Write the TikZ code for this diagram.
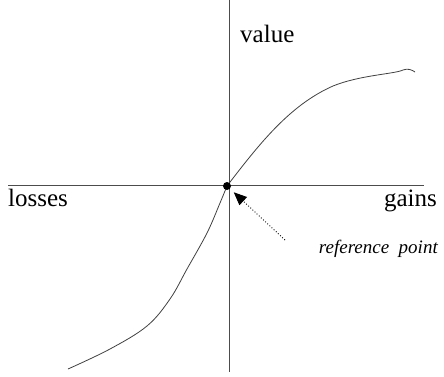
\documentclass[tikz,border=0pt]{standalone}
\usepackage{fontspec}
\setmainfont{Liberation Serif}
\usetikzlibrary{arrows.meta}
\begin{document}
\begin{tikzpicture}[x=1pt,y=-1pt,
  axisline/.style={draw=black!70,line width=0.9pt},
  curveline/.style={draw=black!75,line width=0.8pt},
  lbl/.style={anchor=base west,inner sep=0pt,font=\fontsize{25}{28}\selectfont},
  reflbl/.style={anchor=base west,inner sep=0pt,font=\fontsize{19}{22}\selectfont\itshape}]
\useasboundingbox (0,0) rectangle (444,377);
\coordinate (vtop) at (229,0);
\coordinate (vbot) at (229,372);
\coordinate (hl) at (8,185);
\coordinate (hr) at (424,185);
\draw[axisline] (vtop) -- (vbot);
\draw[axisline] (hl) -- (hr);
\coordinate (cm) at (227,186);
\coordinate (ce) at (415,72);
\draw[curveline] plot[smooth,tension=0.6] coordinates {(68,369) (110,349) (147,326) (170,299) (187,269) (207,233) (220,203) (227,186)};
\draw[curveline] (cm)
  .. controls (260,143) and (290,105) .. (333,86)
  .. controls (360,75) and (395,74) .. (403,70)
  .. controls (408,68) and (412,70) .. (ce);
\node[circle,fill=black,inner sep=0pt,minimum size=8pt] (o) at (cm) {};
\node[lbl] (value) at (240,43) {value};
\node[lbl] (losses) at (8,206) {losses};
\node[lbl,anchor=base east] (gains) at (437,206) {gains};
\node[reflbl,anchor=base east] (ref) at (438,253) {reference\ \ point};
\coordinate (refstart) at (285,240);
\draw[dotted,line width=0.9pt,shorten >=5pt,-{Triangle[length=13pt,width=11pt]}] (refstart) -- (o);
\end{tikzpicture}
\end{document}
